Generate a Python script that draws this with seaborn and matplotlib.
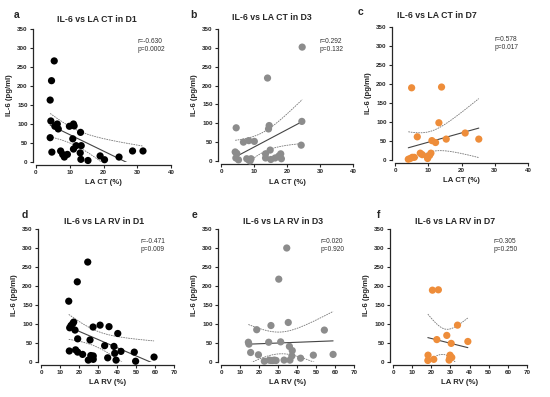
import numpy as np
import pandas as pd
import seaborn as sns
import matplotlib.pyplot as plt

# panel a: IL-6 vs LA CT, D1
ct_d1 = [5.4, 4.6, 4.2, 4.4, 4.2, 4.7, 5.6, 6.3, 6.6, 7.3, 7.9, 8.4, 9.3, 9.9, 11.1, 11.3, 10.9, 11.1,
         11.9, 13.2, 13.4, 13.1, 13.3, 15.4, 19.0, 20.3, 24.6, 28.6, 31.7]
il6_ct_d1 = [266, 214, 163, 108, 64, 26, 94, 100, 87, 29, 20, 13, 20, 94, 100, 95, 61, 34,
             43, 78, 43, 24, 7, 4, 16, 6, 13, 29, 29]
# panel b: D3
ct_d3 = [24.6, 14.1, 14.4, 14.6, 24.5, 24.3, 4.6, 4.3, 4.8, 4.5, 5.3, 6.8, 8.4, 10.1, 7.8, 8.4, 9.1,
         8.8, 13.5, 13.5, 14.9, 15.1, 16.4, 17.5, 18.1, 18.3]
il6_ct_d3 = [302, 220, 85, 94, 105, 42, 88, 24, 20, 8, 3, 50, 54, 52, 6, 3, 6,
             0, 19, 8, 29, 4, 8, 13, 19, 6]
# panel c: D7
ct_d7 = [5.0, 14.0, 13.2, 6.7, 21.1, 25.2, 15.4, 11.1, 12.2, 4.0, 4.6, 5.2, 5.8, 7.6, 8.2, 9.8, 9.8,
         10.4, 10.8]
il6_ct_d7 = [190, 192, 98, 61, 71, 55, 55, 51, 46, 2, 4, 7, 7, 18, 14, 9, 4, 12, 18]
# panel d: IL-6 vs LA RV, D1
rv_d1 = [24.6, 19.1, 14.6, 15.1, 15.8, 16.7, 17.2, 17.9, 19.3, 14.9, 18.2, 19.3, 21.9, 24.9, 26.2,
         25.8, 27.4, 27.5, 27.5, 31.1, 33.5, 35.1, 35.8, 38.4, 38.8, 39.5, 40.4, 42.1, 49.1, 49.8, 59.5]
il6_rv_d1 = [263, 211, 160, 90, 96, 101, 105, 84, 61, 29, 32, 26, 20, 5, 17,
             58, 92, 16, 7, 97, 43, 11, 93, 41, 23, 5, 75, 28, 26, 2, 13]
# panel e: D3
rv_d3 = [34.6, 30.4, 26.3, 35.4, 18.8, 54.4, 14.4, 14.7, 25.1, 31.4, 36.0, 37.5, 37.3, 15.6, 19.7,
         22.8, 25.4, 26.3, 27.2, 28.1, 29.0, 33.2, 36.3, 41.9, 48.6, 59.0]
il6_rv_d3 = [300, 218, 96, 104, 85, 84, 52, 47, 52, 53, 41, 30, 16, 25, 19,
             2, 5, 4, 4, 5, 4, 5, 5, 10, 18, 20]
# panel f: D7
rv_d7 = [20.6, 23.7, 33.7, 28.1, 22.9, 30.4, 39.1, 18.3, 18.2, 21.3, 29.8, 30.0, 30.7, 29.3, 29.7]
il6_rv_d7 = [189, 190, 97, 70, 59, 49, 54, 18, 4, 7, 18, 12, 12, 5, 11]

stats = ["r=-0.630\np=0.0002", "r=0.292\np=0.132", "r=0.578\np=0.017",
         "r=-0.471\np=0.009", "r=0.020\np=0.920", "r=0.305\np=0.250"]
titles = ["IL-6 vs LA CT in D1", "IL-6 vs LA CT in D3", "IL-6 vs LA CT in D7",
          "IL-6 vs LA RV in D1", "IL-6 vs LA RV in D3", "IL-6 vs LA RV in D7"]
letters = ["a", "b", "c", "d", "e", "f"]
xlabels = ["LA CT (%)"] * 3 + ["LA RV (%)"] * 3
colors = ["black", "#8c8c8c", "#ee8d3a"] * 2
xs = [ct_d1, ct_d3, ct_d7, rv_d1, rv_d3, rv_d7]
ys = [il6_ct_d1, il6_ct_d3, il6_ct_d7, il6_rv_d1, il6_rv_d3, il6_rv_d7]

sns.set_style("ticks")
plt.rcParams['font.family'] = ['Liberation Sans', 'DejaVu Sans']

W, H = 550, 397
fig = plt.figure(figsize=(W / 100, H / 100), dpi=100)

# axes boxes in pixels: left, right, y0 (pixel row of 0), y350
boxes = [(36, 171, 162, 29), (221, 353, 161, 29), (395, 528, 160, 27),
         (41, 174, 362, 229), (221, 354, 362, 229), (393, 527, 362, 229)]
letter_pos = [(17, 15), (193, 15), (360, 12), (25, 215), (195, 215), (379, 215)]
title_pos = [(97, 20), (272, 18), (437, 15), (104, 221), (283, 221), (455, 222)]

for i in range(6):
    l, r, y0, y1 = boxes[i]
    ax = fig.add_axes([l / W, (H - y0) / H, (r - l) / W, (y0 - y1) / H])
    x = np.array(xs[i], dtype=float)
    y = np.array(ys[i], dtype=float)
    df = pd.DataFrame({"x": x, "y": y})
    sns.scatterplot(data=df, x="x", y="y", ax=ax, color=colors[i], s=27,
                    edgecolor="none", clip_on=False, zorder=3)

    # linear fit with 95% confidence band of the mean
    n = len(x)
    b, a = np.polyfit(x, y, 1)
    xx = np.linspace(x.min(), x.max(), 100)
    yy = a + b * xx
    resid = y - (a + b * x)
    s = np.sqrt(np.sum(resid ** 2) / (n - 2))
    sxx = np.sum((x - x.mean()) ** 2)
    se = s * np.sqrt(1 / n + (xx - x.mean()) ** 2 / sxx)
    t = 2.05
    ax.plot(xx, yy, color="#444444", lw=0.8, zorder=2)
    ax.plot(xx, yy + t * se, color="#777777", lw=0.6, ls=(0, (2, 1)), zorder=2)
    ax.plot(xx, yy - t * se, color="#777777", lw=0.6, ls=(0, (2, 1)), zorder=2)

    xmax = 40 if i < 3 else 70
    ax.set_xlim(0, xmax)
    ax.set_ylim(0, 350)
    ax.set_xticks(range(0, xmax + 1, 10))
    ax.set_yticks(range(0, 351, 50))
    sns.despine(ax=ax, offset=2)
    for sp in ["left", "bottom"]:
        ax.spines[sp].set_linewidth(0.9)
    ax.tick_params(length=2.5, width=0.8, pad=1.5, labelsize=4.5)
    for lab in ax.get_xticklabels() + ax.get_yticklabels():
        lab.set_fontweight("bold")
    ax.set_xlabel(xlabels[i], fontsize=5.6, fontweight="bold", labelpad=3)
    ax.set_ylabel("IL-6 (pg/ml)", fontsize=5.6, fontweight="bold", labelpad=3)
    ax.text(0.75, 0.93, stats[i], transform=ax.transAxes, fontsize=4.8,
            va="top", ha="left", linespacing=1.1, color="#333333")

    fig.text(letter_pos[i][0] / W, 1 - letter_pos[i][1] / H, letters[i],
             fontsize=7.5, fontweight="bold", ha="center", va="center")
    fig.text(title_pos[i][0] / W, 1 - title_pos[i][1] / H, titles[i],
             fontsize=6.3, fontweight="bold", ha="center", va="center")

fig.savefig("out.png", dpi=100)
